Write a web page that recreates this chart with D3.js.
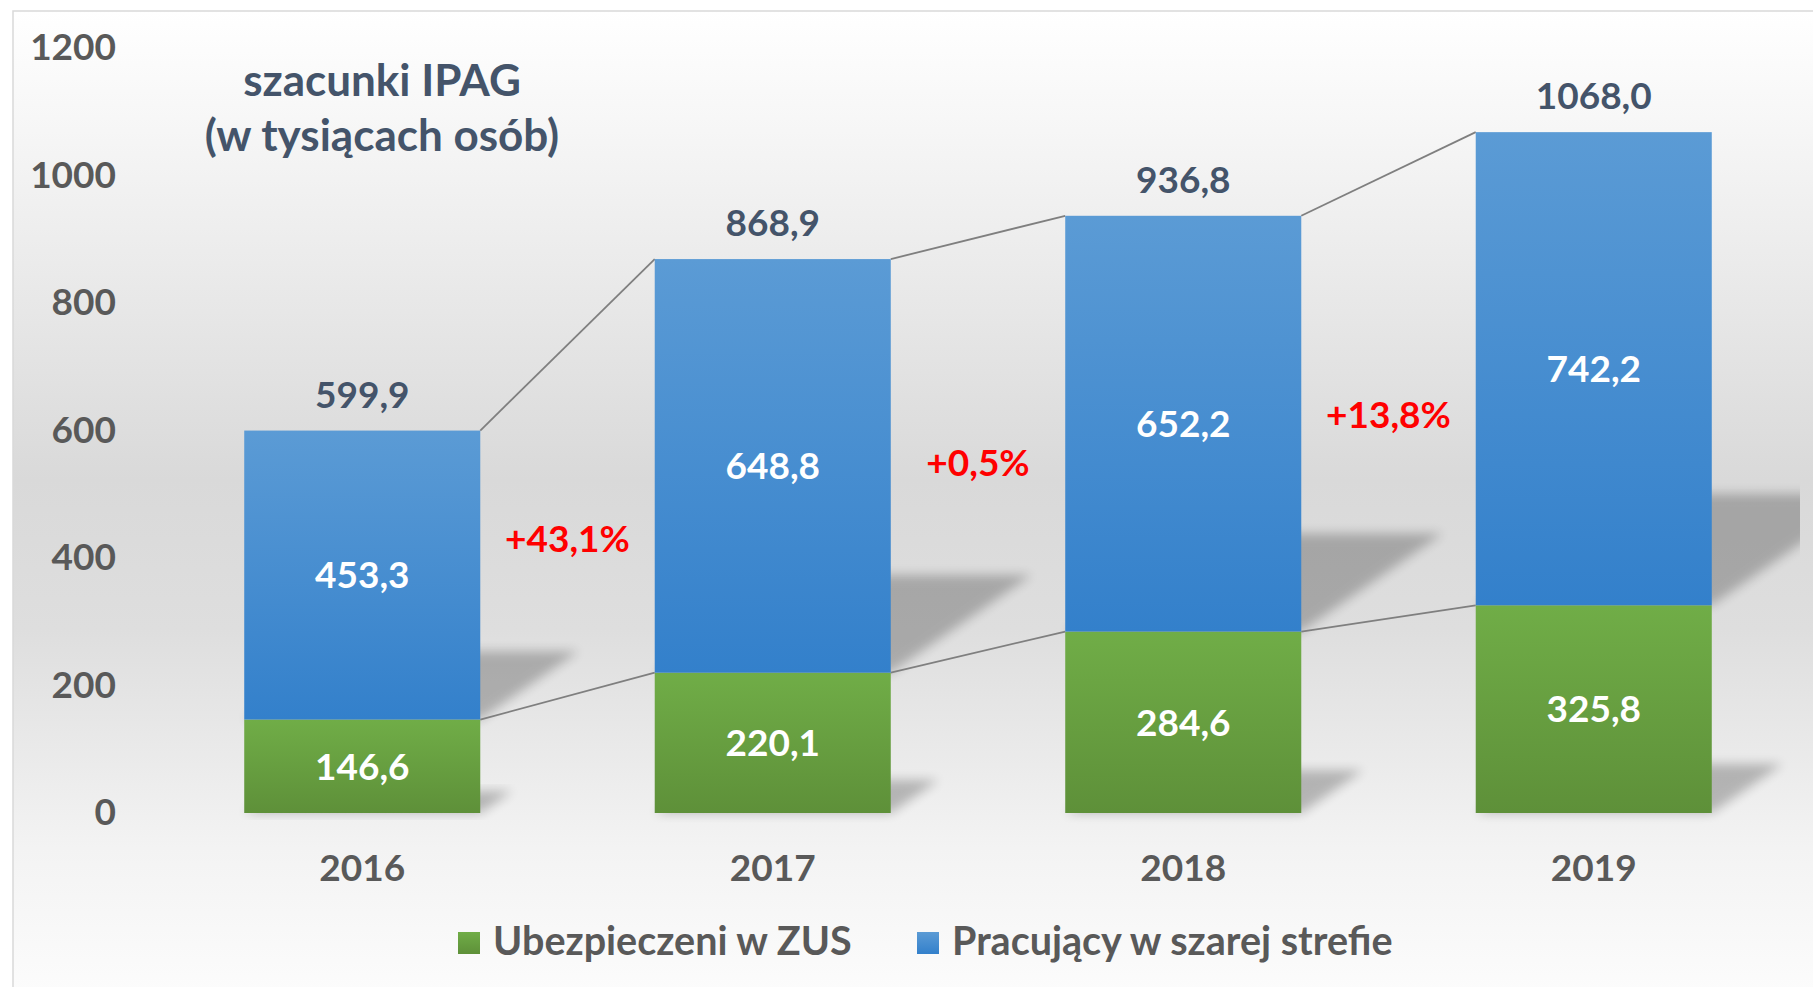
<!DOCTYPE html>
<html>
<head>
<meta charset="utf-8">
<script src="https://cdn.jsdelivr.net/npm/d3@7"></script>
<style>
  html, body { margin: 0; padding: 0; background: #ffffff; }
  svg { display: block; }
  text { font-family: Lato, "Open Sans", sans-serif; font-weight: 700; }
</style>
</head>
<body>
<svg id="chart" width="1813" height="987"></svg>
<script>
// ---- data ----
const years = ["2016", "2017", "2018", "2019"];
const insured = [146.6, 220.1, 284.6, 325.8];          // Ubezpieczeni w ZUS
const grey = [453.3, 648.8, 652.2, 742.2];             // Pracujący w szarej strefie
const totals = [599.9, 868.9, 936.8, 1068.0];
const growthLabels = ["+43,1%", "+0,5%", "+13,8%"];
const yTicks = [0, 200, 400, 600, 800, 1000, 1200];
const seriesNames = ["Ubezpieczeni w ZUS", "Pracujący w szarej strefie"];
const titleLines = ["szacunki IPAG", "(w tysiącach osób)"];

// ---- setup ----
const svg = d3.select("#chart");
const W = 1813, H = 987;
const fmt = v => d3.format(".1f")(v).replace(".", ",");

const x = d3.scaleBand().domain(years).range([157, 1799]).paddingInner(0.425).paddingOuter(0.2125);
const y = d3.scaleLinear().domain([0, 1200]).range([813, 48]);

const defs = svg.append("defs");
const bg = defs.append("linearGradient").attr("id", "bgGrad").attr("x1", 0).attr("y1", 0).attr("x2", 0).attr("y2", 1);
bg.append("stop").attr("offset", "0%").attr("stop-color", "#ffffff");
bg.append("stop").attr("offset", "12%").attr("stop-color", "#f6f6f6");
bg.append("stop").attr("offset", "47%").attr("stop-color", "#d9d9d9");
bg.append("stop").attr("offset", "62%").attr("stop-color", "#dedede");
bg.append("stop").attr("offset", "84%").attr("stop-color", "#f3f3f3");
bg.append("stop").attr("offset", "100%").attr("stop-color", "#fdfdfd");

function vGrad(id, top, bottom) {
  const g = defs.append("linearGradient").attr("id", id).attr("x1", 0).attr("y1", 0).attr("x2", 0).attr("y2", 1);
  g.append("stop").attr("offset", "0%").attr("stop-color", top);
  g.append("stop").attr("offset", "100%").attr("stop-color", bottom);
}
vGrad("blueGrad", "#5b9bd5", "#3380cb");
vGrad("greenGrad", "#70ad47", "#5e9039");

defs.append("filter").attr("id", "blur").attr("x", "-30%").attr("y", "-30%").attr("width", "160%").attr("height", "160%")
  .append("feGaussianBlur").attr("stdDeviation", 5.5);
defs.append("clipPath").attr("id", "plotClip").append("rect")
  .attr("x", 13).attr("y", 11).attr("width", 1787).attr("height", 980);

// background
svg.append("rect").attr("x", 13).attr("y", 11).attr("width", W + 10).attr("height", H + 10)
  .attr("fill", "url(#bgGrad)").attr("stroke", "#d9d9d9").attr("stroke-width", 1.5);

// stacked data
const segs = [];
years.forEach((yr, i) => {
  segs.push({ yr, i, s: 0, y0: 0, y1: insured[i], v: insured[i], fill: "url(#greenGrad)" });
  segs.push({ yr, i, s: 1, y0: insured[i], y1: insured[i] + grey[i], v: grey[i], fill: "url(#blueGrad)" });
});

// perspective shadows
const shadowG = svg.append("g").attr("clip-path", "url(#plotClip)");
shadowG.selectAll("path").data(segs).join("path")
  .attr("d", d => {
    const x0 = x(d.yr), x1 = x(d.yr) + x.bandwidth();
    const yb = y(d.y0), h = y(d.y0) - y(d.y1);
    const dy = 0.236 * h, dx = 0.34 * h;
    return `M${x0},${yb}L${x1},${yb}L${x1 + dx},${yb - dy}L${x0 + dx},${yb - dy}Z`;
  })
  .attr("fill", "#000").attr("opacity", 0.24).attr("filter", "url(#blur)");

// connector lines
const conn = svg.append("g");
for (let i = 0; i < years.length - 1; i++) {
  const xa = x(years[i]) + x.bandwidth(), xb = x(years[i + 1]);
  conn.append("line").attr("x1", xa).attr("y1", y(totals[i])).attr("x2", xb).attr("y2", y(totals[i + 1]))
    .attr("stroke", "#7f7f7f").attr("stroke-width", 1.8);
  conn.append("line").attr("x1", xa).attr("y1", y(insured[i])).attr("x2", xb).attr("y2", y(insured[i + 1]))
    .attr("stroke", "#7f7f7f").attr("stroke-width", 1.8);
}

// bars
svg.append("g").selectAll("rect").data(segs).join("rect")
  .attr("x", d => x(d.yr)).attr("width", x.bandwidth())
  .attr("y", d => y(d.y1)).attr("height", d => y(d.y0) - y(d.y1))
  .attr("fill", d => d.fill);

// segment labels
svg.append("g").selectAll("text").data(segs).join("text")
  .attr("x", d => x(d.yr) + x.bandwidth() / 2)
  .attr("y", d => (y(d.y0) + y(d.y1)) / 2)
  .attr("dy", "0.36em")
  .attr("text-anchor", "middle").attr("font-size", 37).attr("fill", "#ffffff")
  .text(d => fmt(d.v));

// total labels
svg.append("g").selectAll("text").data(years).join("text")
  .attr("x", d => x(d) + x.bandwidth() / 2)
  .attr("y", (d, i) => y(totals[i]) - 23)
  .attr("text-anchor", "middle").attr("font-size", 37).attr("fill", "#44546a")
  .text((d, i) => fmt(totals[i]));

// growth labels
svg.append("g").selectAll("text").data(growthLabels).join("text")
  .attr("x", (d, i) => (x(years[i]) + x.bandwidth() + x(years[i + 1])) / 2)
  .attr("y", (d, i) => {
    const m1 = insured[i] + grey[i] / 2, m2 = insured[i + 1] + grey[i + 1] / 2;
    return y((m1 + m2) / 2) + 18;
  })
  .attr("dy", "0.36em")
  .attr("text-anchor", "middle").attr("font-size", 37).attr("fill", "#ff0000")
  .text(d => d);

// y axis
const yAxis = svg.append("g").attr("transform", "translate(124,0)")
  .call(d3.axisLeft(y).tickValues(yTicks).tickSize(0).tickPadding(8).tickFormat(d3.format("d")));
yAxis.select(".domain").remove();
yAxis.selectAll("text").attr("font-size", 37).attr("fill", "#595959")
  .style("font-family", "Lato, 'Open Sans', sans-serif").style("font-weight", 700);

// x axis
const xAxis = svg.append("g").attr("transform", `translate(0,${y(0)})`)
  .call(d3.axisBottom(x).tickSize(0).tickPadding(42));
xAxis.select(".domain").remove();
xAxis.selectAll("text").attr("font-size", 37).attr("fill", "#595959")
  .style("font-family", "Lato, 'Open Sans', sans-serif").style("font-weight", 700);

// title
svg.append("g").selectAll("text").data(titleLines).join("text")
  .attr("x", 382).attr("y", (d, i) => 96 + i * 55)
  .attr("text-anchor", "middle").attr("font-size", 44).attr("fill", "#44546a")
  .text(d => d);

// legend
const legendItems = [
  { name: seriesNames[0], fill: "url(#greenGrad)", sx: 458, tx: 493 },
  { name: seriesNames[1], fill: "url(#blueGrad)", sx: 917, tx: 952 }
];
const lg = svg.append("g");
legendItems.forEach(it => {
  lg.append("rect").attr("x", it.sx).attr("y", 932).attr("width", 22).attr("height", 22).attr("fill", it.fill);
  lg.append("text").attr("x", it.tx).attr("y", 955).attr("font-size", 39.5).attr("fill", "#595959").text(it.name);
});
</script>
</body>
</html>
